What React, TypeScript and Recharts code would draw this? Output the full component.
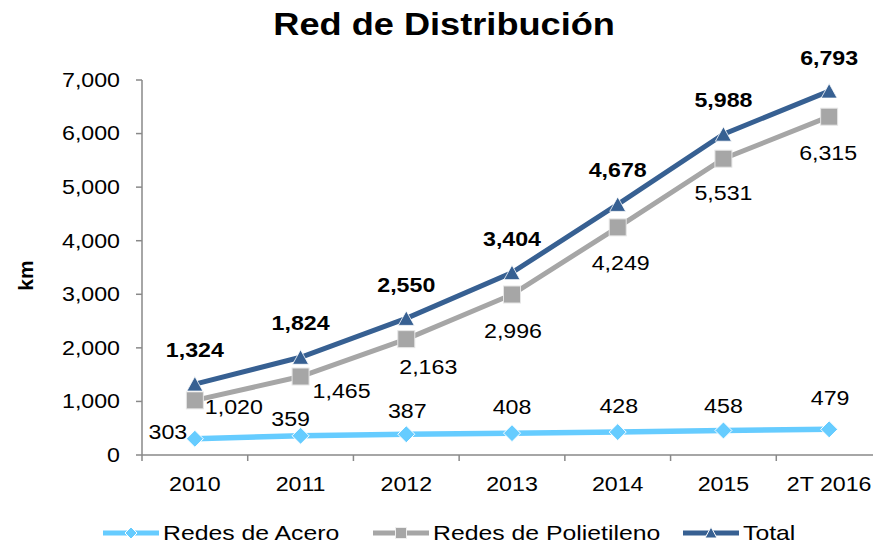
import React from 'react';
import { LineChart, Line, XAxis, YAxis, LabelList } from 'recharts';

const categories = ['2010', '2011', '2012', '2013', '2014', '2015', '2T 2016'];
const acero = [303, 359, 387, 408, 428, 458, 479];
const polietileno = [1020, 1465, 2163, 2996, 4249, 5531, 6315];
const total = [1324, 1824, 2550, 3404, 4678, 5988, 6793];
const yTicks = [0, 1000, 2000, 3000, 4000, 5000, 6000, 7000];

const seriesNames = ['Redes de Acero', 'Redes de Polietileno', 'Total'];

// label offsets (styling only) relative to each point
const aceroOffsets = [[-27, -7], [-10, -17], [1, -23], [0, -26], [1, -26], [0, -24], [1, -31]];
const polyOffsets = [[39, 7], [41, 15], [22, 28], [1, 37], [3, 36], [0, 34], [-1, 36]];
const totalOffsets = [[0, -34], [0, -34], [0, -33], [0, -34], [0, -34], [0, -34], [0, -33]];

const data = categories.map((name, i) => ({
  name,
  acero: acero[i],
  polietileno: polietileno[i],
  total: total[i],
}));

const FONT = '"Liberation Sans", Arial, sans-serif';
const C_ACERO = '#66CCFF';
const C_POLY = '#A6A6A6';
const C_TOTAL = '#376092';
const AXIS = '#898989';
const SX = 1.16; // horizontal stretch of the text in the reference

const PLOT_LEFT = 142;
const PLOT_RIGHT = 882;
const BW = (PLOT_RIGHT - PLOT_LEFT) / categories.length;

const fmt = (v: number) => v.toLocaleString('en-US');

const SText = ({ x, y, anchor = 'middle', size = 20, bold = false, children }: any) => (
  <text
    transform={`translate(${x} ${y}) scale(${SX} 1)`}
    x={0}
    y={0}
    textAnchor={anchor}
    dominantBaseline="central"
    fontFamily={FONT}
    fontSize={size}
    fontWeight={bold ? 'bold' : 'normal'}
    fill="#000"
  >
    {children}
  </text>
);

const Diamond = ({ cx, cy }: any) => (
  <path d={`M${cx},${cy - 8.5} L${cx + 8.5},${cy} L${cx},${cy + 8.5} L${cx - 8.5},${cy} Z`} fill={C_ACERO} stroke="#ffffff" strokeWidth={1} />
);
const Square = ({ cx, cy }: any) => (
  <rect x={cx - 8.5} y={cy - 8.5} width={17} height={17} fill={C_POLY} stroke="#e6e6e6" strokeWidth={1} />
);
const Triangle = ({ cx, cy }: any) => (
  <path d={`M${cx},${cy - 7.5} L${cx + 8},${cy + 7} L${cx - 8},${cy + 7} Z`} fill={C_TOTAL} stroke="#ffffff" strokeWidth={0.8} />
);

const makeLabel = (offsets: number[][], bold: boolean) => (props: any) => {
  const { x, y, value, index } = props;
  const o = offsets[index] || [0, 0];
  return (
    <SText x={x + o[0]} y={y + o[1]} size={20} bold={bold}>
      {fmt(value)}
    </SText>
  );
};

const XTick = (props: any) => {
  const { x, y, payload, index } = props;
  const last = index === categories.length - 1;
  return (
    <g>
      <line x1={x - BW / 2} y1={y} x2={x - BW / 2} y2={y + 6} stroke={AXIS} strokeWidth={1.5} />
      {last && <line x1={x + BW / 2} y1={y} x2={x + BW / 2} y2={y + 6} stroke={AXIS} strokeWidth={1.5} />}
      <SText x={x} y={y + 29} size={20}>
        {payload.value}
      </SText>
    </g>
  );
};

const YTick = (props: any) => {
  const { x, y, payload } = props;
  return (
    <SText x={x} y={y} anchor="end" size={20}>
      {fmt(payload.value)}
    </SText>
  );
};

const LegendIcon = ({ color, kind }: { color: string; kind: string }) => (
  <svg width={56} height={20} style={{ display: 'block' }}>
    <line x1={0} y1={10} x2={56} y2={10} stroke={color} strokeWidth={5} />
    {kind === 'diamond' && <path d="M28,4 L34,10 L28,16 L22,10 Z" fill={color} stroke="#fff" strokeWidth={1} />}
    {kind === 'square' && <rect x={22.5} y={4.5} width={11} height={11} fill={color} stroke="#eee" strokeWidth={1} />}
    {kind === 'triangle' && <path d="M28,4 L34,15 L22,15 Z" fill={color} stroke="#fff" strokeWidth={1} />}
  </svg>
);

const legendItems = [
  { name: seriesNames[0], color: C_ACERO, kind: 'diamond', left: 103 },
  { name: seriesNames[1], color: C_POLY, kind: 'square', left: 373 },
  { name: seriesNames[2], color: C_TOTAL, kind: 'triangle', left: 683 },
];

export default function App() {
  return (
    <div style={{ position: 'absolute', left: 0, top: 0, width: 873, height: 544, overflow: 'hidden', background: '#fff', fontFamily: FONT }}>
      <div style={{ position: 'absolute', left: 0, top: 8, width: 888, textAlign: 'center', fontSize: 32, fontWeight: 'bold', lineHeight: '32px', color: '#000' }}>
        <span style={{ display: 'inline-block', transform: 'scaleX(1.13)', transformOrigin: 'center' }}>Red de Distribución</span>
      </div>
      <LineChart width={890} height={544} data={data} margin={{ top: 80, right: 890 - PLOT_RIGHT, left: 0, bottom: 49 }}>
        <XAxis
          dataKey="name"
          scale="point"
          interval={0}
          padding={{ left: BW / 2, right: BW / 2 }}
          height={40}
          tickLine={false}
          tickSize={0}
          tickMargin={0}
          axisLine={{ stroke: AXIS, strokeWidth: 1.5 }}
          tick={<XTick />}
        />
        <YAxis
          width={PLOT_LEFT}
          domain={[0, 7000]}
          ticks={yTicks}
          interval={0}
          tickSize={6}
          tickMargin={16}
          axisLine={{ stroke: AXIS, strokeWidth: 1.5 }}
          tickLine={{ stroke: AXIS, strokeWidth: 1.5 }}
          tick={<YTick />}
          label={{
            content: (p: any) => {
              const vb = p.viewBox || { x: 0, y: 80, width: PLOT_LEFT, height: 375 };
              const cx = vb.x + 25;
              const cy = vb.y + vb.height / 2 + 8;
              return (
                <text x={cx} y={cy} transform={`rotate(-90 ${cx} ${cy})`} textAnchor="middle" dominantBaseline="central" fontFamily={FONT} fontSize={21} fontWeight="bold" fill="#000">
                  km
                </text>
              );
            },
          }}
        />
        <Line
          dataKey="acero"
          name={seriesNames[0]}
          stroke={C_ACERO}
          strokeWidth={5.5}
          isAnimationActive={false}
          dot={(p: any) => <Diamond key={`a-${p.index}`} cx={p.cx} cy={p.cy} />}
          activeDot={false}
        >
          <LabelList dataKey="acero" content={makeLabel(aceroOffsets, false)} />
        </Line>
        <Line
          dataKey="polietileno"
          name={seriesNames[1]}
          stroke={C_POLY}
          strokeWidth={5}
          isAnimationActive={false}
          dot={(p: any) => <Square key={`p-${p.index}`} cx={p.cx} cy={p.cy} />}
          activeDot={false}
        >
          <LabelList dataKey="polietileno" content={makeLabel(polyOffsets, false)} />
        </Line>
        <Line
          dataKey="total"
          name={seriesNames[2]}
          stroke={C_TOTAL}
          strokeWidth={5}
          isAnimationActive={false}
          dot={(p: any) => <Triangle key={`t-${p.index}`} cx={p.cx} cy={p.cy} />}
          activeDot={false}
        >
          <LabelList dataKey="total" content={makeLabel(totalOffsets, true)} />
        </Line>
      </LineChart>
      {legendItems.map((it) => (
        <div key={it.name} style={{ position: 'absolute', left: it.left, top: 523, height: 20, display: 'flex', alignItems: 'center' }}>
          <LegendIcon color={it.color} kind={it.kind} />
          <span style={{ marginLeft: 4, fontSize: 21, color: '#000', lineHeight: '20px', whiteSpace: 'nowrap', display: 'inline-block', transform: 'scaleX(1.18)', transformOrigin: 'left center' }}>{it.name}</span>
        </div>
      ))}
    </div>
  );
}
